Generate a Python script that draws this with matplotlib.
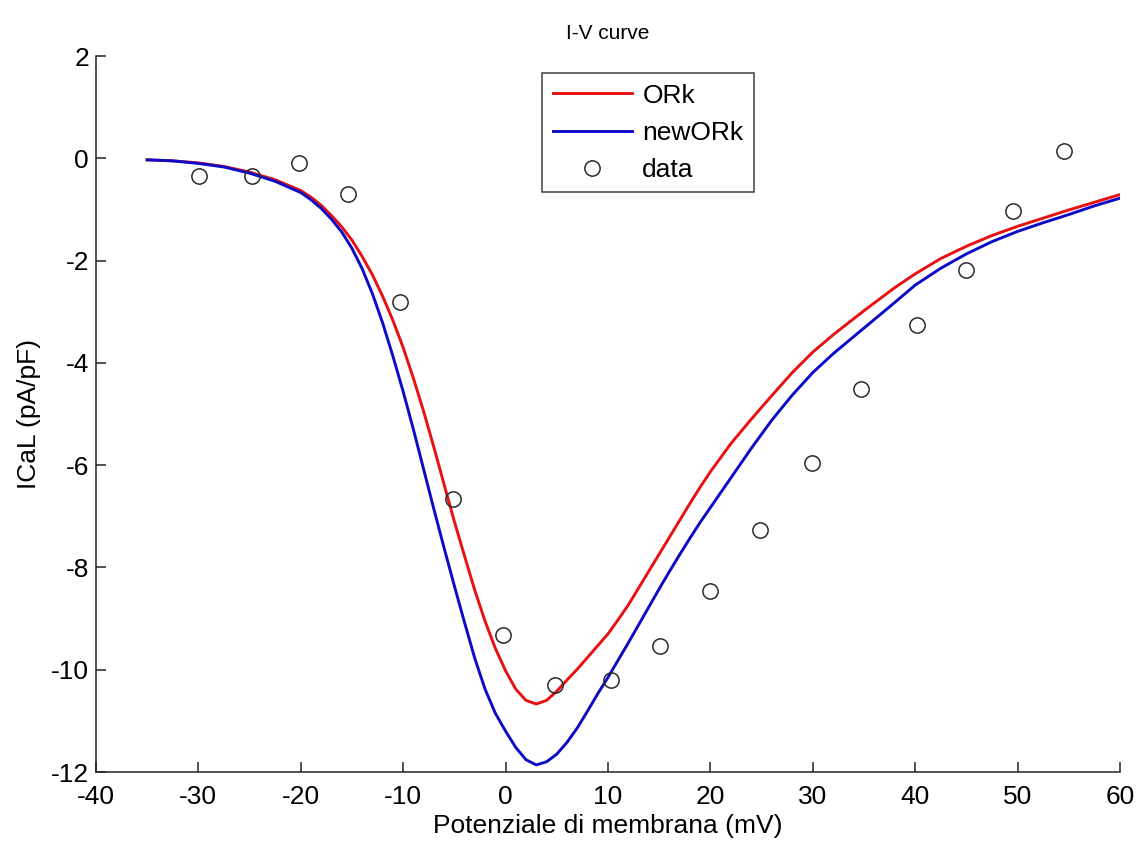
import matplotlib
matplotlib.use("Agg")
import matplotlib.pyplot as plt

plt.rcParams['font.family'] = ['Liberation Sans', 'DejaVu Sans']

# Membrane potential grid (mV) used for both model curves
v_model = [-35, -32.5, -30, -27.5, -25, -22.5, -20, -19, -18, -17, -16, -15,
           -14, -13, -12, -11, -10, -9, -8, -7, -6, -5, -4, -3, -2, -1, 0,
           1, 2, 3, 4, 5, 6, 7, 8, 9, 10, 11, 12, 13, 14, 15, 16, 17, 18, 19,
           20, 22, 24, 26, 28, 30, 32, 35, 38, 40, 42.5, 45, 47.5, 50, 52.5,
           55, 57.5, 60]

# ICaL of the original ORk model (pA/pF)
i_ork = [-0.03, -0.05, -0.09, -0.16, -0.27, -0.42, -0.63, -0.76, -0.92, -1.12,
         -1.34, -1.60, -1.92, -2.28, -2.70, -3.17, -3.70, -4.30, -4.95, -5.65,
         -6.38, -7.10, -7.78, -8.45, -9.05, -9.58, -10.02, -10.38, -10.60,
         -10.67, -10.60, -10.42, -10.20, -9.99, -9.76, -9.53, -9.30, -9.02,
         -8.73, -8.40, -8.07, -7.74, -7.41, -7.08, -6.75, -6.43, -6.13, -5.58,
         -5.10, -4.64, -4.19, -3.79, -3.45, -2.98, -2.53, -2.26, -1.96, -1.72,
         -1.51, -1.33, -1.17, -1.01, -0.86, -0.71]

# ICaL of the modified model (pA/pF)
i_new_ork = [-0.03, -0.05, -0.10, -0.17, -0.29, -0.45, -0.67, -0.81, -0.98,
             -1.19, -1.44, -1.76, -2.16, -2.65, -3.22, -3.87, -4.56, -5.30,
             -6.08, -6.86, -7.62, -8.36, -9.08, -9.78, -10.38, -10.85, -11.20,
             -11.52, -11.76, -11.86, -11.80, -11.65, -11.42, -11.14, -10.81,
             -10.47, -10.15, -9.81, -9.47, -9.12, -8.77, -8.42, -8.08, -7.75,
             -7.43, -7.12, -6.83, -6.25, -5.67, -5.12, -4.63, -4.19, -3.82,
             -3.32, -2.82, -2.48, -2.15, -1.87, -1.63, -1.43, -1.26, -1.10,
             -0.93, -0.78]

# Experimental points
v_data = [-29.9, -24.8, -20.2, -15.4, -10.3, -5.15, -0.26, 4.85, 10.26, 15.1,
          19.97, 24.83, 29.9, 34.75, 40.18, 45.0, 49.6, 54.5]
i_data = [-0.34, -0.34, -0.10, -0.70, -2.80, -6.67, -9.32, -10.29, -10.20,
          -9.54, -8.47, -7.27, -5.96, -4.52, -3.26, -2.19, -1.03, 0.14]

x_ticks = [-40, -30, -20, -10, 0, 10, 20, 30, 40, 50, 60]
y_ticks = [2, 0, -2, -4, -6, -8, -10, -12]

fig = plt.figure(figsize=(11.37, 8.41), dpi=100)
ax = fig.add_axes([0.0844, 0.082, 0.9006, 0.8514])

ax.plot(v_model, i_ork, color='#e81010', lw=2.1, label='ORk',
        solid_joinstyle='round')
ax.plot(v_model, i_new_ork, color='#0c0cc8', lw=2.1, label='newORk',
        solid_joinstyle='round')
ax.plot(v_data, i_data, linestyle='none', marker='o', markersize=11,
        markerfacecolor='none', markeredgecolor='#2a2a2a',
        markeredgewidth=1.1, label='data')

ax.set_xlim(-40, 60)
ax.set_ylim(-12, 2)
ax.set_xticks(x_ticks)
ax.set_yticks(y_ticks)
ax.set_xticklabels([str(t) for t in x_ticks])
ax.set_yticklabels([str(t) for t in y_ticks])

for side in ('top', 'right'):
    ax.spines[side].set_visible(False)
for side in ('left', 'bottom'):
    ax.spines[side].set_linewidth(1.1)
    ax.spines[side].set_color('#222222')

ax.tick_params(direction='in', length=7, width=1.1, color='#222222',
               labelsize=19)
ax.tick_params(axis='x', pad=9)
ax.tick_params(axis='y', pad=5)

ax.set_title('I-V curve', fontsize=15, pad=12)
ax.set_xlabel('Potenziale di membrana (mV)', fontsize=19, labelpad=4)
ax.set_ylabel('ICaL (pA/pF)', fontsize=19, labelpad=7)

leg = ax.legend(loc='upper left', bbox_to_anchor=(0.4767, 0.9132),
                bbox_transform=fig.transFigure, borderaxespad=0,
                fontsize=19, frameon=True, fancybox=False, shadow=False,
                handlelength=3.0, handletextpad=0.4, labelspacing=0.5,
                borderpad=0.4)
leg.get_frame().set_edgecolor('#111111')
leg.get_frame().set_linewidth(1.1)

fig.savefig('out.png', dpi=100)
